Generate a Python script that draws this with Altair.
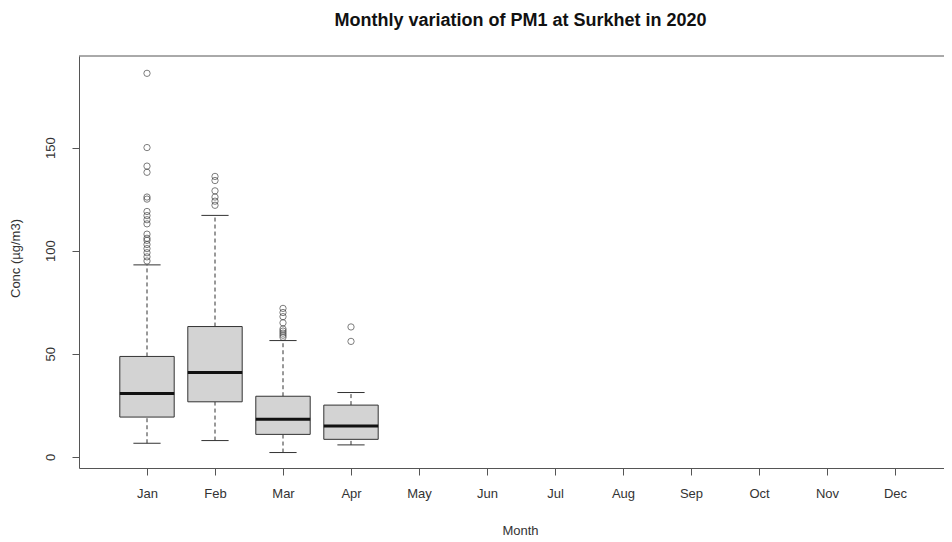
import altair as alt
import pandas as pd

# ---- data ----
months = ["Jan", "Feb", "Mar", "Apr", "May", "Jun", "Jul", "Aug", "Sep", "Oct", "Nov", "Dec"]
box_months = ["Jan", "Feb", "Mar", "Apr"]
whisker_low = [6.6, 7.9, 2.1, 5.8]
q1 = [19.3, 26.7, 10.9, 8.5]
median = [30.7, 40.9, 18.2, 15.0]
q3 = [48.7, 63.2, 29.4, 25.1]
whisker_high = [93.1, 117.1, 56.4, 31.2]

outliers_jan = [186, 150, 141, 138, 126, 125, 119, 117, 115, 113, 108, 106, 105, 103, 101, 99, 97, 95]
outliers_feb = [136, 134, 129, 126, 124, 122]
outliers_mar = [72, 70, 68, 65, 62, 61, 60, 59, 58]
outliers_apr = [63, 56]

# ---- tables ----
box_df = pd.DataFrame({
    "month": box_months,
    "idx": [months.index(m) + 1 for m in box_months],
    "lo": whisker_low, "q1": q1, "med": median, "q3": q3, "hi": whisker_high,
})
out_rows = []
for m, vals in zip(box_months, [outliers_jan, outliers_feb, outliers_mar, outliers_apr]):
    for v in vals:
        out_rows.append({"month": m, "idx": months.index(m) + 1, "value": v})
out_df = pd.DataFrame(out_rows)

W, H = 865, 412
PX_PER_MONTH = 68.0
xs = alt.Scale(domain=[0, W / PX_PER_MONTH], nice=False, zero=False)
ys = alt.Scale(domain=[-5.4, 194.4], nice=False, zero=False)

FONT = "Liberation Sans"
TXT = "#333333"
LINE = "#555555"

label_expr = "[" + ",".join("'%s'" % m for m in months) + "][datum.value - 1]"

x_axis = alt.Axis(
    values=list(range(1, 13)), labelExpr=label_expr, grid=False,
    tickSize=7, tickColor=LINE, domainColor=LINE, labelPadding=12,
    labelFont=FONT, labelFontSize=13, labelColor=TXT,
    titleFont=FONT, titleFontSize=13, titleFontWeight="normal", titleColor=TXT,
    titleX=441, titleY=62, titleAlign="center", titleBaseline="middle",
)
y_axis = alt.Axis(
    values=[0, 50, 100, 150], grid=False,
    tickSize=7, tickColor=LINE, domainColor=LINE,
    labelAngle=270, labelAlign="center", labelBaseline="middle", labelPadding=22,
    labelFont=FONT, labelFontSize=13, labelColor=TXT,
    titleFont=FONT, titleFontSize=13, titleFontWeight="normal", titleColor=TXT,
    titleAngle=270, titleX=-64, titleY=202, titleAlign="center", titleBaseline="middle",
)


def X(field):
    return alt.X(field, type="quantitative", scale=xs, axis=x_axis, title="Month")


def Y(field):
    return alt.Y(field, type="quantitative", scale=ys, axis=y_axis, title="Conc (µg/m3)")


base = alt.Chart(box_df).transform_calculate(
    xl="datum.idx - 0.4", xr="datum.idx + 0.4",
    cl="datum.idx - 0.2", cr="datum.idx + 0.2",
)

whisk_lo = base.mark_rule(color="#333333", strokeWidth=1, strokeDash=[4, 3]).encode(
    x=X("idx"), y=Y("lo"), y2="q1")
whisk_hi = base.mark_rule(color="#333333", strokeWidth=1, strokeDash=[4, 3]).encode(
    x=X("idx"), y=Y("q3"), y2="hi")
cap_lo = base.mark_rule(color="#333333", strokeWidth=1).encode(
    x=X("cl"), x2="cr", y=Y("lo"))
cap_hi = base.mark_rule(color="#333333", strokeWidth=1).encode(
    x=X("cl"), x2="cr", y=Y("hi"))
boxes = base.mark_rect(fill="#d3d3d3", stroke="#333333", strokeWidth=1).encode(
    x=X("xl"), x2="xr", y=Y("q1"), y2="q3")
meds = base.mark_rule(color="#111111", strokeWidth=3).encode(
    x=X("xl"), x2="xr", y=Y("med"))
outs = alt.Chart(out_df).mark_point(
    shape="circle", filled=False, size=40, color="#333333", strokeWidth=0.9
).encode(x=X("idx"), y=Y("value"))

top_border = alt.Chart(pd.DataFrame({"k": [0]})).mark_rule(
    color=LINE, strokeWidth=1
).encode(x=alt.value(0), x2=alt.value(W), y=alt.value(0))

chart = alt.layer(
    whisk_lo, whisk_hi, boxes, meds, cap_lo, cap_hi, outs, top_border
).properties(
    width=W, height=H,
    padding={"left": 71, "top": 48, "right": 0, "bottom": 70},
    autosize=alt.AutoSizeParams(type="none"),
    title=alt.TitleParams(
        "Monthly variation of PM1 at Surkhet in 2020",
        font=FONT, fontSize=18, fontWeight="bold", color="#111111",
        anchor="middle", frame="group", dx=9, offset=12, baseline="alphabetic",
    ),
).configure_view(stroke=None)

chart.save("out.html", embed_options={"renderer": "svg", "actions": False})
